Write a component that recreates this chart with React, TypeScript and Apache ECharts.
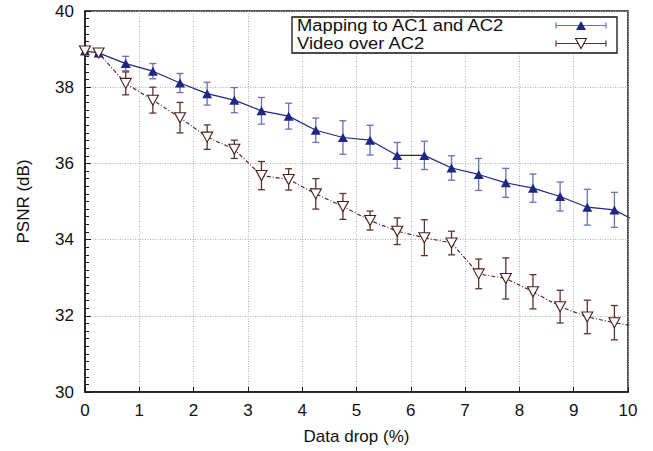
import React, { useEffect, useRef } from "react";
import * as echarts from "echarts";

const xs = [0, 0.25, 0.75, 1.25, 1.75, 2.25, 2.75, 3.25, 3.75, 4.25, 4.75, 5.25, 5.75, 6.25, 6.75, 7.25, 7.75, 8.25, 8.75, 9.25, 9.75, 10.25];
const mapping = [38.95, 38.9, 38.62, 38.42, 38.11, 37.83, 37.66, 37.38, 37.24, 36.87, 36.68, 36.61, 36.21, 36.21, 35.88, 35.71, 35.49, 35.35, 35.13, 34.85, 34.78, 34.4];
const mappingErr = [0.05, 0.05, 0.19, 0.2, 0.25, 0.3, 0.33, 0.35, 0.34, 0.32, 0.44, 0.39, 0.34, 0.37, 0.32, 0.42, 0.38, 0.37, 0.38, 0.47, 0.46, 0.45];
const video = [38.95, 38.9, 38.1, 37.66, 37.2, 36.69, 36.37, 35.68, 35.58, 35.2, 34.87, 34.5, 34.22, 34.05, 33.91, 33.1, 32.98, 32.63, 32.24, 31.97, 31.82, 31.7];
const videoErr = [0.05, 0.05, 0.3, 0.34, 0.4, 0.32, 0.24, 0.37, 0.28, 0.4, 0.34, 0.25, 0.35, 0.47, 0.31, 0.39, 0.54, 0.45, 0.43, 0.44, 0.45, 0.45];
const seriesNames = ["Mapping to AC1 and AC2", "Video over AC2"];

const FONT = "Liberation Sans";
const BLUE = "#1f2782";
const BLUE_ERR = "#6a70b6";
const BROWN = "#4a1e1e";
const BROWN_ERR = "#5a3434";

function errorSeries(vals: number[], errs: number[], color: string) {
  return {
    type: "custom",
    clip: true,
    z: 1,
    data: xs.map((x, i) => [x, vals[i] - errs[i], vals[i] + errs[i]]),
    renderItem: (params: any, api: any) => {
      const lo = api.coord([api.value(0), api.value(1)]);
      const hi = api.coord([api.value(0), api.value(2)]);
      const hw = 3.5;
      const style = { stroke: color, lineWidth: 1.3 };
      return {
        type: "group",
        children: [
          { type: "line", shape: { x1: lo[0], y1: lo[1], x2: hi[0], y2: hi[1] }, style },
          { type: "line", shape: { x1: lo[0] - hw, y1: lo[1], x2: lo[0] + hw, y2: lo[1] }, style },
          { type: "line", shape: { x1: hi[0] - hw, y1: hi[1], x2: hi[0] + hw, y2: hi[1] }, style },
        ],
      };
    },
  };
}

export default function App() {
  const ref = useRef<HTMLDivElement>(null);
  useEffect(() => {
    const chart = echarts.init(ref.current!, null, { renderer: "svg" });
    const lx1 = 556, lx2 = 606, lxm = 581, r1 = 25.5, r2 = 43.5;
    chart.setOption({
      animation: false,
      textStyle: { fontFamily: FONT },
      grid: { left: 85, right: 25, top: 11, bottom: 59, show: true, borderColor: "#1a1a1a", borderWidth: 1.5 },
      xAxis: {
        type: "value",
        min: 0,
        max: 10,
        interval: 1,
        name: "Data drop (%)",
        nameLocation: "middle",
        nameGap: 36,
        nameTextStyle: { fontSize: 17, color: "#111", fontFamily: FONT },
        axisLine: { show: true, lineStyle: { color: "#1a1a1a", width: 1.5 } },
        axisTick: { show: true, inside: true, length: 5, lineStyle: { color: "#1a1a1a" } },
        axisLabel: { fontSize: 17, color: "#111", margin: 10, fontFamily: FONT },
        splitLine: { show: true, lineStyle: { color: "#b0b0b0", type: [1, 1.5], width: 1 } },
      },
      yAxis: {
        type: "value",
        min: 30,
        max: 40,
        interval: 2,
        name: "PSNR (dB)",
        nameLocation: "middle",
        nameGap: 53,
        nameTextStyle: { fontSize: 17, color: "#111", fontFamily: FONT },
        axisLine: { show: true, lineStyle: { color: "#1a1a1a", width: 1.5 } },
        axisTick: { show: true, inside: true, length: 6, lineStyle: { color: "#1a1a1a" } },
        minorTick: { show: true, splitNumber: 10, length: 4, lineStyle: { color: "#1a1a1a" } },
        axisLabel: { fontSize: 17, color: "#111", margin: 11, fontFamily: FONT },
        splitLine: { show: true, lineStyle: { color: "#b0b0b0", type: [1, 1.5], width: 1 } },
      },
      series: [
        errorSeries(mapping, mappingErr, BLUE_ERR),
        errorSeries(video, videoErr, BROWN_ERR),
        {
          name: seriesNames[0],
          type: "line",
          clip: true,
          z: 3,
          data: xs.map((x, i) => [x, mapping[i]]),
          symbol: "triangle",
          symbolSize: [10, 9],
          lineStyle: { color: BLUE, width: 1.2 },
          itemStyle: { color: BLUE },
        },
        {
          name: seriesNames[1],
          type: "line",
          clip: true,
          z: 3,
          data: xs.map((x, i) => [x, video[i]]),
          symbol: "triangle",
          symbolRotate: 180,
          symbolSize: [11, 10],
          lineStyle: { color: BROWN, width: 1.1, type: [4, 2, 1, 2] },
          itemStyle: { color: "#fff", borderColor: BROWN, borderWidth: 1.1 },
        },
      ],
      graphic: [
        { type: "rect", shape: { x: 292, y: 17, width: 325, height: 36 }, style: { fill: "#fff", stroke: "#111", lineWidth: 1.3 }, z: 10 },
        { type: "text", x: 297, y: r1, scaleX: 1.08, style: { text: seriesNames[0], font: `17px ${FONT}`, fill: "#111", verticalAlign: "middle" }, z: 11 },
        { type: "text", x: 297, y: r2, scaleX: 1.08, style: { text: seriesNames[1], font: `17px ${FONT}`, fill: "#111", verticalAlign: "middle" }, z: 11 },
        { type: "line", shape: { x1: lx1, y1: r1, x2: lx2, y2: r1 }, style: { stroke: BLUE_ERR, lineWidth: 1.2 }, z: 11 },
        { type: "line", shape: { x1: lx1, y1: r1 - 3, x2: lx1, y2: r1 + 3 }, style: { stroke: BLUE_ERR, lineWidth: 1.2 }, z: 11 },
        { type: "line", shape: { x1: lx2, y1: r1 - 3, x2: lx2, y2: r1 + 3 }, style: { stroke: BLUE_ERR, lineWidth: 1.2 }, z: 11 },
        { type: "polygon", shape: { points: [[lxm - 5, r1 + 4.5], [lxm + 5, r1 + 4.5], [lxm, r1 - 4.5]] }, style: { fill: BLUE }, z: 12 },
        { type: "line", shape: { x1: lx1, y1: r2, x2: lx2, y2: r2 }, style: { stroke: BROWN_ERR, lineWidth: 1.2 }, z: 11 },
        { type: "line", shape: { x1: lx1, y1: r2 - 3, x2: lx1, y2: r2 + 3 }, style: { stroke: BROWN_ERR, lineWidth: 1.2 }, z: 11 },
        { type: "line", shape: { x1: lx2, y1: r2 - 3, x2: lx2, y2: r2 + 3 }, style: { stroke: BROWN_ERR, lineWidth: 1.2 }, z: 11 },
        { type: "polygon", shape: { points: [[lxm - 5.5, r2 - 5], [lxm + 5.5, r2 - 5], [lxm, r2 + 5]] }, style: { fill: "#fff", stroke: BROWN, lineWidth: 1.1 }, z: 12 },
      ],
    });
    return () => chart.dispose();
  }, []);
  return <div ref={ref} style={{ width: 653, height: 451, position: "absolute", left: 0, top: 0 }} />;
}
